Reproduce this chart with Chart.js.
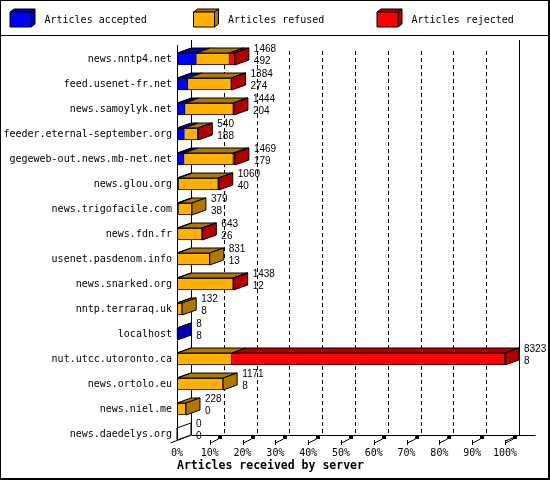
<!DOCTYPE html>
<html>
<head>
<meta charset="utf-8">
<script src="https://cdn.jsdelivr.net/npm/chart.js@4.4.1/dist/chart.umd.min.js"></script>
<style>
  html, body { margin: 0; padding: 0; background: #fff; }
  #wrap { width: 550px; height: 480px; }
</style>
</head>
<body>
<div id="wrap"><canvas id="chart" width="550" height="480"></canvas></div>
<script>
// data
const servers = [
    'news.nntp4.net', 'feed.usenet-fr.net', 'news.samoylyk.net',
    'feeder.eternal-september.org', 'gegeweb-out.news.mb-net.net',
    'news.glou.org', 'news.trigofacile.com', 'news.fdn.fr',
    'usenet.pasdenom.info', 'news.snarked.org', 'nntp.terraraq.uk',
    'localhost', 'nut.utcc.utoronto.ca', 'news.ortolo.eu',
    'news.niel.me', 'news.daedelys.org'
];
const accepted = [492, 274, 204, 188, 179, 40, 38, 26, 13, 12, 8, 8, 8, 8, 0, 0];
const refused  = [840, 1104, 1226, 338, 1252, 1008, 341, 610, 818, 1414, 124, 0, 1386, 1163, 228, 0];
const rejected = [136, 6, 14, 14, 38, 12, 0, 7, 0, 12, 0, 0, 6929, 0, 0, 0];
const tickLabels = ['0%', '10%', '20%', '30%', '40%', '50%', '60%', '70%', '80%', '90%', '100%'];
const seriesNames = ['Articles accepted', 'Articles refused', 'Articles rejected'];
const axisTitle = 'Articles received by server';

const totals = servers.map((s, i) => accepted[i] + refused[i] + rejected[i]);
const maxTotal = Math.max(...totals);
const toPct = arr => arr.map(v => v / maxTotal * 100);

// 3d depth of the bars
const DX = 14, DY = 5;
const MONO = '"DejaVu Sans Mono", monospace';

function poly(ctx, pts, fill) {
    ctx.beginPath();
    ctx.moveTo(pts[0][0], pts[0][1]);
    for (let k = 1; k < pts.length; k++) ctx.lineTo(pts[k][0], pts[k][1]);
    ctx.closePath();
    if (fill) {
        ctx.fillStyle = fill;
        ctx.fill();
    }
    ctx.strokeStyle = '#000';
    ctx.lineWidth = 1;
    ctx.stroke();
}

function line(ctx, x0, y0, x1, y1) {
    ctx.beginPath();
    ctx.moveTo(x0, y0);
    ctx.lineTo(x1, y1);
    ctx.stroke();
}

const frame3d = {
    id: 'frame3d',
    beforeDraw(chart) {
        const ctx = chart.ctx;
        ctx.save();
        ctx.fillStyle = '#fff';
        ctx.fillRect(0, 0, 550, 480);
        // outer border + legend separator
        ctx.fillStyle = '#000';
        ctx.fillRect(0, 0, 550, 1);
        ctx.fillRect(0, 0, 1, 480);
        ctx.fillRect(548, 0, 2, 480);
        ctx.fillRect(0, 478, 550, 2);
        ctx.fillRect(0, 35, 550, 1);

        // legend with little cubes
        chart.data.datasets.forEach((ds, k) => {
            const x = 10 + k * 183.5, y = 12, w = 21, h = 15;
            poly(ctx, [[x, y], [x + w, y], [x + w + 4, y - 3], [x + 4, y - 3]], ds.sideColor);
            poly(ctx, [[x + w, y], [x + w + 4, y - 3], [x + w + 4, y + h - 3], [x + w, y + h]], ds.sideColor);
            poly(ctx, [[x, y], [x + w, y], [x + w, y + h], [x, y + h]], ds.backgroundColor);
            ctx.fillStyle = '#000';
            ctx.font = '10px ' + MONO;
            ctx.textAlign = 'left';
            ctx.textBaseline = 'middle';
            ctx.fillText(ds.label, x + 34.5, 20);
        });
        ctx.restore();
    },
    beforeDatasetsDraw(chart) {
        const ctx = chart.ctx;
        const xs = chart.scales.x;
        const area = chart.chartArea;
        const lastEl = chart.getDatasetMeta(0).data[servers.length - 1];
        const floorFront = Math.round(lastEl.y + lastEl.height / 2);
        const floorBack = floorFront - DY;
        const frontTop = Math.round(area.top - 1.5);
        const backTop = frontTop - DY;
        const px = v => Math.round(xs.getPixelForValue(v)) + 0.5;

        ctx.save();
        ctx.strokeStyle = '#000';
        ctx.lineWidth = 1;
        // dashed grid on the back wall
        ctx.setLineDash([4, 3]);
        for (let v = 10; v < 100; v += 10) {
            line(ctx, px(v) + DX, frontTop + 6, px(v) + DX, floorBack);
        }
        ctx.setLineDash([]);
        // back wall lines
        line(ctx, px(0) + DX, backTop, px(0) + DX, floorBack);
        line(ctx, px(100) + DX, backTop, px(100) + DX, floorBack);
        // floor
        line(ctx, px(0) + DX, floorBack + 0.5, px(100) + DX + 16, floorBack + 0.5);
        line(ctx, px(0) - 7, floorFront + 3, px(0) + DX, floorBack);
        line(ctx, px(100), floorFront + 1, px(100) + DX, floorBack);
        // tick marks
        for (let v = 10; v <= 100; v += 10) {
            const x = px(v);
            line(ctx, x, floorFront, x, floorFront + 5);
            line(ctx, x, floorFront + 3, x + 8, floorFront - 1);
            ctx.fillStyle = '#000';
            ctx.fillRect(x + 7.5, floorFront - 4, 4, 3);
        }
        ctx.restore();
    },
    afterDatasetsDraw(chart) {
        const ctx = chart.ctx;
        const xs = chart.scales.x;
        const area = chart.chartArea;
        const dsets = chart.data.datasets;
        ctx.save();
        servers.forEach((name, i) => {
            let last = -1;
            let end = xs.getPixelForValue(0), top = 0, bottom = 0;
            dsets.forEach((ds, d) => {
                const el = chart.getDatasetMeta(d).data[i];
                const p = el.getProps(['x', 'base', 'y', 'height'], true);
                top = p.y - p.height / 2;
                bottom = p.y + p.height / 2;
                if (ds.data[i] <= 0) return;
                const x0 = Math.min(p.x, p.base), x1 = Math.max(p.x, p.base);
                poly(ctx, [[x0, top], [x1, top], [x1 + DX, top - DY], [x0 + DX, top - DY]], ds.sideColor);
                last = d;
                end = x1;
            });
            // right side face in the colour of the last segment
            poly(ctx, [[end, top], [end + DX, top - DY], [end + DX, bottom - DY], [end, bottom]],
                last >= 0 ? dsets[last].sideColor : '#fff');

            // total and accepted next to the bar
            ctx.fillStyle = '#000';
            ctx.font = '10px "Liberation Sans", sans-serif';
            ctx.textAlign = 'left';
            ctx.textBaseline = 'middle';
            const cy = (top + bottom) / 2;
            ctx.fillText(String(totals[i]), end + DX + 5, cy - 10);
            ctx.fillText(String(accepted[i]), end + DX + 5, cy + 2);
        });
        // front edge of the left wall
        const lastEl = chart.getDatasetMeta(0).data[servers.length - 1];
        const floorFront = Math.round(lastEl.y + lastEl.height / 2);
        const x0 = Math.round(xs.getPixelForValue(0)) + 0.5;
        ctx.strokeStyle = '#000';
        ctx.lineWidth = 1;
        line(ctx, x0, Math.round(area.top - 1.5), x0, floorFront);
        ctx.restore();
    }
};

new Chart(document.getElementById('chart'), {
    type: 'bar',
    data: {
        labels: servers,
        datasets: [
            { label: seriesNames[0], data: toPct(accepted), backgroundColor: '#0000ff', sideColor: '#0000b0' },
            { label: seriesNames[1], data: toPct(refused), backgroundColor: '#ffb000', sideColor: '#b07800' },
            { label: seriesNames[2], data: toPct(rejected), backgroundColor: '#ff0000', sideColor: '#b00000' }
        ]
    },
    options: {
        indexAxis: 'y',
        responsive: false,
        devicePixelRatio: 1,
        animation: false,
        layout: { padding: { top: 46.5, right: 45, left: 0, bottom: 0 } },
        datasets: {
            bar: {
                barThickness: 12,
                borderColor: '#000',
                borderWidth: { top: 1, bottom: 1, right: 1, left: 0 },
                borderSkipped: false
            }
        },
        plugins: {
            legend: { display: false },
            tooltip: { enabled: false }
        },
        scales: {
            x: {
                stacked: true,
                min: 0,
                max: 100,
                grid: { display: false, drawTicks: false },
                border: { display: false },
                ticks: {
                    stepSize: 10,
                    padding: 1,
                    color: '#000',
                    font: { family: MONO, size: 10 },
                    callback: (v, i) => tickLabels[i]
                },
                title: {
                    display: true,
                    text: axisTitle,
                    align: 'start',
                    color: '#000',
                    font: { family: MONO, size: 11.5, weight: 'bold' },
                    padding: { top: 0, bottom: 7 }
                },
                afterFit: s => { s.height = 33.5; }
            },
            y: {
                stacked: true,
                grid: { display: false, drawTicks: false },
                border: { display: false },
                ticks: {
                    autoSkip: false,
                    padding: 5,
                    color: '#000',
                    font: { family: MONO, size: 10 }
                },
                afterFit: s => { s.width = 177; }
            }
        }
    },
    plugins: [frame3d]
});
</script>
</body>
</html>
